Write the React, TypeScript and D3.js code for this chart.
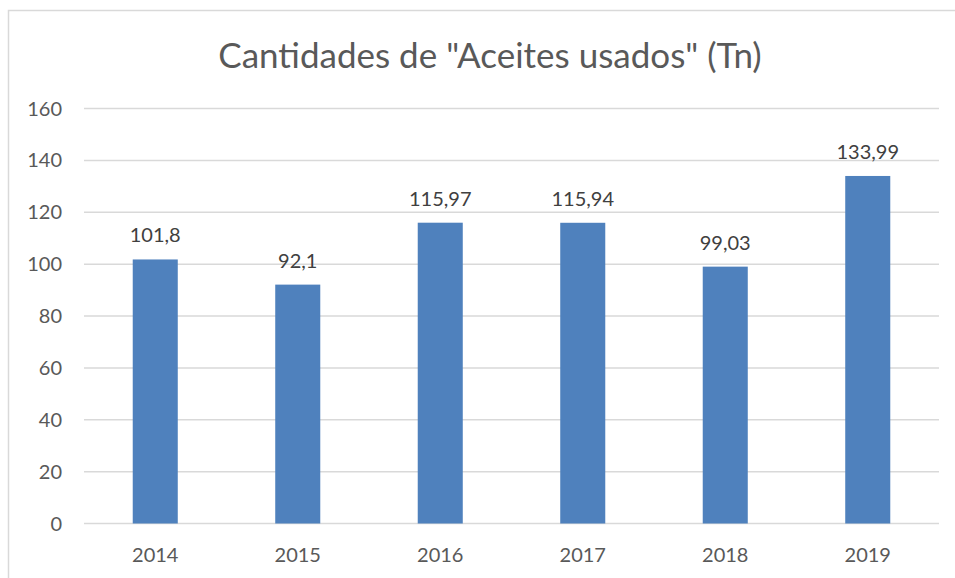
import * as d3 from 'd3';
import React, { useRef, useEffect } from 'react';

const years = ['2014', '2015', '2016', '2017', '2018', '2019'];
const amounts = [101.8, 92.1, 115.97, 115.94, 99.03, 133.99];
const yTicks = [0, 20, 40, 60, 80, 100, 120, 140, 160];

function App() {
    const ref = useRef(null);
    const width = 955, height = 578;

    useEffect(() => {
        const svg = d3.select(ref.current);
        svg.selectAll("*").remove();

        const font = "Lato, 'Open Sans', sans-serif";
        const grey = "#595959";

        // outer chart frame
        svg.append("rect")
            .attr("x", 8.5).attr("y", 10.5)
            .attr("width", 960).attr("height", 600)
            .attr("fill", "white")
            .attr("stroke", "#d9d9d9")
            .attr("stroke-width", 1.5);

        const left = 84, right = 939, top = 108.5, bottom = 523.5;

        const x = d3.scaleBand()
            .domain(years)
            .range([left, right])
            .paddingInner(0.684)
            .paddingOuter(0.342);

        const y = d3.scaleLinear()
            .domain([0, 160])
            .range([bottom, top]);

        svg.append("text")
            .attr("x", 490).attr("y", 68)
            .attr("text-anchor", "middle")
            .style("font-family", font)
            .style("font-size", "35px")
            .style("fill", grey)
            .text('Cantidades de "Aceites usados" (Tn)');

        const grid = svg.append("g");
        grid.selectAll("line")
            .data(yTicks)
            .enter().append("line")
            .attr("x1", left).attr("x2", right)
            .attr("y1", d => y(d)).attr("y2", d => y(d))
            .attr("stroke", "#d9d9d9")
            .attr("stroke-width", 1.5);

        svg.append("g").selectAll("text")
            .data(yTicks)
            .enter().append("text")
            .attr("x", 62)
            .attr("y", d => y(d) + 7)
            .attr("text-anchor", "end")
            .style("font-family", font)
            .style("font-size", "20px")
            .style("fill", grey)
            .text(d => d);

        svg.append("g").selectAll("rect")
            .data(amounts)
            .enter().append("rect")
            .attr("x", (d, i) => x(years[i]))
            .attr("y", d => y(d))
            .attr("width", x.bandwidth())
            .attr("height", d => y(0) - y(d))
            .attr("fill", "#4F81BD");

        svg.append("g").selectAll("text")
            .data(amounts)
            .enter().append("text")
            .attr("x", (d, i) => x(years[i]) + x.bandwidth() / 2)
            .attr("y", d => y(d) - 17)
            .attr("text-anchor", "middle")
            .style("font-family", font)
            .style("font-size", "20px")
            .style("fill", "#404040")
            .text(d => String(d).replace('.', ','));

        svg.append("g").selectAll("text")
            .data(years)
            .enter().append("text")
            .attr("x", d => x(d) + x.bandwidth() / 2)
            .attr("y", 562)
            .attr("text-anchor", "middle")
            .style("font-family", font)
            .style("font-size", "20px")
            .style("fill", grey)
            .text(d => d);
    }, []);

    return (
        <div className="chart">
            <svg ref={ref} width={width} height={height}
                style={{ position: 'absolute', left: 0, top: 0 }}>
            </svg>
        </div>
    );
}

export default App;
